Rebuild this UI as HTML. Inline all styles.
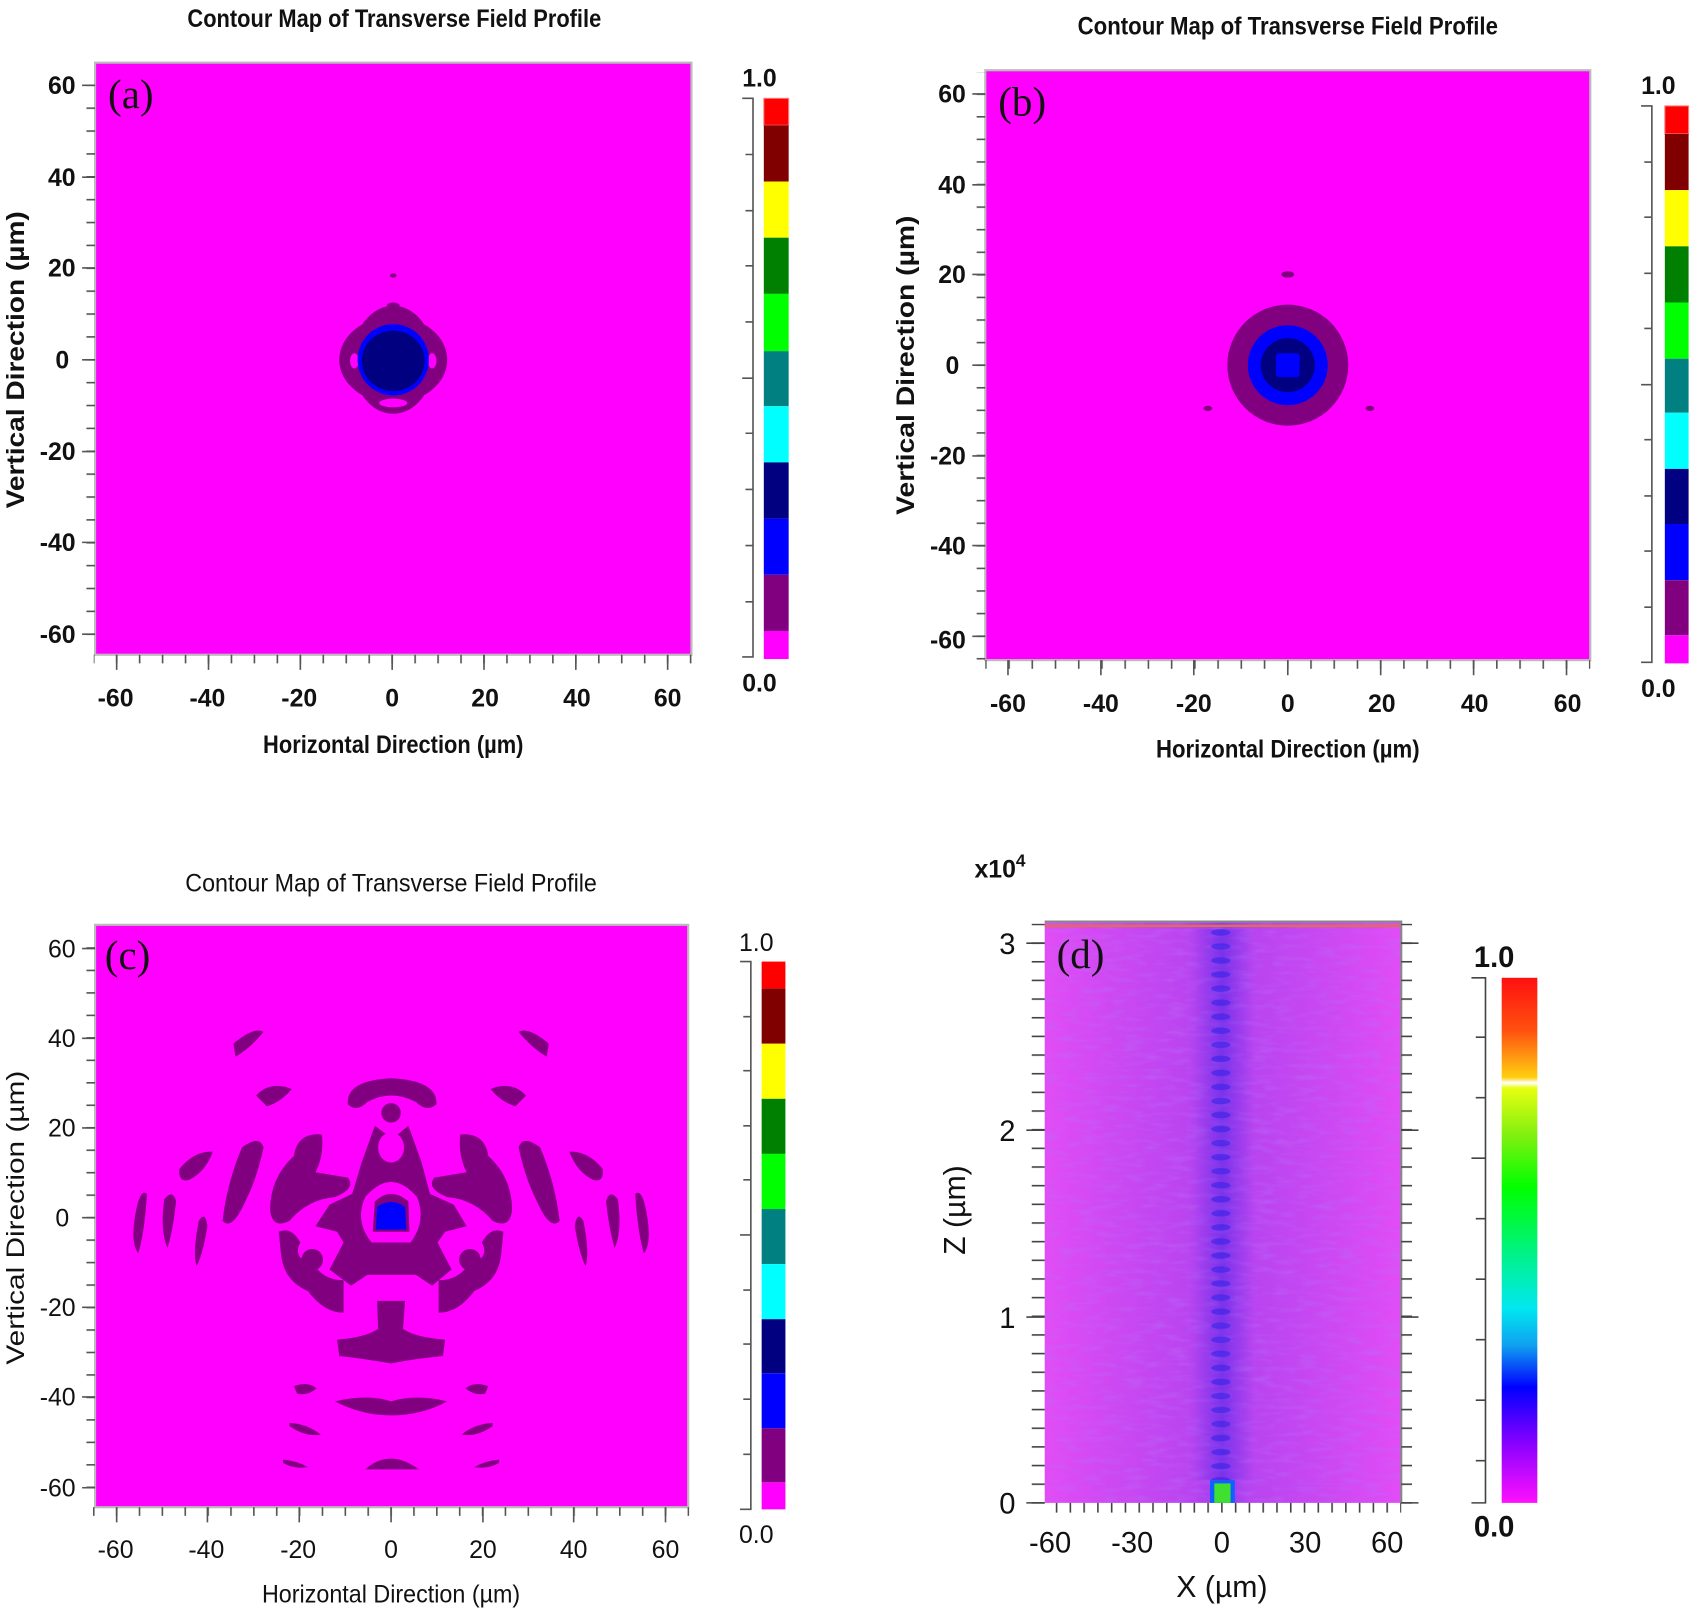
<!DOCTYPE html>
<html><head><meta charset="utf-8"><style>html,body{margin:0;padding:0;background:#fff}svg{display:block}</style></head><body>
<svg width="1694" height="1612" viewBox="0 0 1568 1492" preserveAspectRatio="none" xmlns="http://www.w3.org/2000/svg">
<defs>
<pattern id="ax" patternUnits="userSpaceOnUse" x="362.25" y="0" width="21.25" height="20"><rect x="0" y="0" width="1.5" height="20" fill="#555"/></pattern>
<pattern id="ay" patternUnits="userSpaceOnUse" x="0" y="332.25" width="20" height="21.17"><rect x="0" y="0" width="20" height="1.5" fill="#555"/></pattern>
<pattern id="bx" patternUnits="userSpaceOnUse" x="1191.25" y="0" width="21.5" height="20"><rect x="0" y="0" width="1.5" height="20" fill="#555"/></pattern>
<pattern id="by" patternUnits="userSpaceOnUse" x="0" y="337.25" width="20" height="20.9"><rect x="0" y="0" width="20" height="1.5" fill="#555"/></pattern>
<pattern id="cx" patternUnits="userSpaceOnUse" x="361.25" y="0" width="21.17" height="20"><rect x="0" y="0" width="1.5" height="20" fill="#555"/></pattern>
<pattern id="cy" patternUnits="userSpaceOnUse" x="0" y="1126.25" width="20" height="20.8"><rect x="0" y="0" width="20" height="1.5" fill="#555"/></pattern>
<pattern id="dx" patternUnits="userSpaceOnUse" x="1130.25" y="0" width="12.75" height="20"><rect x="0" y="0" width="1.5" height="20" fill="#444"/></pattern>
<pattern id="dy" patternUnits="userSpaceOnUse" x="0" y="1390.25" width="20" height="17.27"><rect x="0" y="0" width="20" height="1.5" fill="#444"/></pattern>
<pattern id="beads" patternUnits="userSpaceOnUse" x="0" y="860" width="20" height="13"><ellipse cx="10" cy="3" rx="9" ry="3" fill="#3020e8"/></pattern>
<linearGradient id="dbg" x1="0" x2="1" y1="0" y2="0">
<stop offset="0" stop-color="#e24cf6"/><stop offset="0.2" stop-color="#cc48f2"/><stop offset="0.42" stop-color="#b844f0"/><stop offset="0.5" stop-color="#9a3aec"/><stop offset="0.58" stop-color="#b844f0"/><stop offset="0.8" stop-color="#cc48f2"/><stop offset="1" stop-color="#e24cf6"/></linearGradient>
<linearGradient id="col" x1="0" x2="1" y1="0" y2="0">
<stop offset="0" stop-color="#6030e8" stop-opacity="0"/><stop offset="0.5" stop-color="#5028e8" stop-opacity="0.7"/><stop offset="1" stop-color="#6030e8" stop-opacity="0"/></linearGradient>
<linearGradient id="dcb" x1="0" x2="0" y1="0" y2="1">
<stop offset="0" stop-color="#ff1010"/><stop offset="0.1" stop-color="#ff5010"/><stop offset="0.19" stop-color="#ffd010"/><stop offset="0.2" stop-color="#ffffff"/><stop offset="0.21" stop-color="#e8ff10"/><stop offset="0.3" stop-color="#80f010"/><stop offset="0.4" stop-color="#00ff00"/><stop offset="0.55" stop-color="#00f0a0"/><stop offset="0.63" stop-color="#00e8f0"/><stop offset="0.7" stop-color="#10a0f0"/><stop offset="0.78" stop-color="#0000ff"/><stop offset="0.88" stop-color="#8000ff"/><stop offset="1" stop-color="#ff10ff"/></linearGradient>
<filter id="tex" x="0" y="0" width="1" height="1"><feTurbulence type="fractalNoise" baseFrequency="0.05 0.2" numOctaves="2" seed="3"/><feColorMatrix type="matrix" values="0 0 0 0 0.5  0 0 0 0 0.15  0 0 0 0 0.95  0 0 0 1.8 -0.8"/></filter>
</defs>
<g font-family="'Liberation Sans Narrow','Liberation Sans',sans-serif" font-weight="bold" fill="#111">

<!-- ===== Panel A ===== -->
<text x="365" y="25" font-size="23" text-anchor="middle" textLength="383" lengthAdjust="spacingAndGlyphs">Contour Map of Transverse Field Profile</text>
<rect x="88" y="58" width="552" height="548" fill="#ff00ff" stroke="#bbb" stroke-width="2"/>
<g fill="#800080">
<ellipse cx="364" cy="333" rx="50" ry="40"/>
<ellipse cx="364" cy="333" rx="38" ry="50"/>
<ellipse cx="364" cy="283" rx="6" ry="3"/>
<ellipse cx="364" cy="255" rx="3" ry="2"/>
</g>
<ellipse cx="364" cy="373" rx="13" ry="4" fill="#ff00ff"/>
<ellipse cx="328" cy="334" rx="4" ry="7" fill="#ff00ff"/>
<ellipse cx="400" cy="334" rx="4" ry="7" fill="#ff00ff"/>
<circle cx="364" cy="333" r="33" fill="#0000ff"/>
<ellipse cx="364" cy="334" rx="29" ry="28" fill="#000080"/>
<text x="100" y="100" font-family="'Liberation Serif',serif" font-weight="normal" font-size="38">(a)</text>
<rect x="86.75" y="606" width="556" height="8" fill="url(#ax)"/>
<rect x="80" y="60" width="8" height="546" fill="url(#ay)"/>
<path d="M108,606v14M193,606v14M278,606v14M363,606v14M448,606v14M533,606v14M618,606v14M76,79h12M76,164h12M76,248h12M76,333h12M76,418h12M76,502h12M76,587h12" stroke="#555" stroke-width="1.5"/>
<g font-size="23" text-anchor="middle">
<text x="107" y="654">-60</text><text x="192" y="654">-40</text><text x="277" y="654">-20</text><text x="363" y="654">0</text><text x="449" y="654">20</text><text x="534" y="654">40</text><text x="618" y="654">60</text>
</g>
<g font-size="23" text-anchor="end">
<text x="70" y="87">60</text><text x="70" y="172">40</text><text x="70" y="256">20</text><text x="64" y="341">0</text><text x="70" y="426">-20</text><text x="70" y="510">-40</text><text x="70" y="595">-60</text>
</g>
<text x="364" y="697" font-size="23" text-anchor="middle" textLength="241" lengthAdjust="spacingAndGlyphs">Horizontal Direction (µm)</text>
<text transform="translate(22,333) rotate(-90)" font-size="23" text-anchor="middle" textLength="275" lengthAdjust="spacingAndGlyphs">Vertical Direction (µm)</text>
<path d="M687,91h10v517h-10M690,143h7M690,195h7M690,246h7M687,350h10M690,298h7M690,401h7M690,453h7M690,505h7M690,557h7" stroke="#555" stroke-width="1.5" fill="none"/>
<rect x="707" y="91" width="23" height="25" fill="#ff0000" stroke="#ff8080"/>
<rect x="707" y="116" width="23" height="52" fill="#800000"/>
<rect x="707" y="168" width="23" height="52" fill="#ffff00"/>
<rect x="707" y="220" width="23" height="52" fill="#008000"/>
<rect x="707" y="272" width="23" height="53" fill="#00ff00"/>
<rect x="707" y="325" width="23" height="51" fill="#008080"/>
<rect x="707" y="376" width="23" height="52" fill="#00ffff"/>
<rect x="707" y="428" width="23" height="52" fill="#000080"/>
<rect x="707" y="480" width="23" height="52" fill="#0000ff"/>
<rect x="707" y="532" width="23" height="52" fill="#800080"/>
<rect x="707" y="584" width="23" height="26" fill="#ff00ff"/>
<text x="703" y="80" font-size="23" text-anchor="middle">1.0</text>
<text x="703" y="640" font-size="23" text-anchor="middle">0.0</text>

<!-- ===== Panel B ===== -->
<text x="1192" y="32" font-size="23" text-anchor="middle" textLength="389" lengthAdjust="spacingAndGlyphs">Contour Map of Transverse Field Profile</text>
<rect x="912" y="65" width="560" height="546" fill="#ff00ff" stroke="#bbb" stroke-width="2"/>
<circle cx="1192" cy="338" r="56" fill="#800080"/>
<ellipse cx="1192" cy="254" rx="6" ry="3" fill="#800080"/>
<ellipse cx="1118" cy="378" rx="4" ry="2.5" fill="#800080"/>
<ellipse cx="1268" cy="378" rx="4" ry="2.5" fill="#800080"/>
<circle cx="1192" cy="338" r="37" fill="#0000ff"/>
<circle cx="1192" cy="338" r="25" fill="#000080"/>
<rect x="1181" y="327" width="22" height="22" rx="3" fill="#0000ff"/>
<text x="924" y="107" font-family="'Liberation Serif',serif" font-weight="normal" font-size="38">(b)</text>
<rect x="912" y="611" width="560" height="8" fill="url(#bx)"/>
<rect x="904" y="67" width="8" height="544" fill="url(#by)"/>
<path d="M933,611v14M1019,611v14M1105,611v14M1192,611v14M1278,611v14M1364,611v14M1450,611v14M900,87h12M900,171h12M900,254h12M900,338h12M900,422h12M900,505h12M900,589h12" stroke="#555" stroke-width="1.5"/>
<g font-size="23" text-anchor="middle">
<text x="933" y="659">-60</text><text x="1019" y="659">-40</text><text x="1105" y="659">-20</text><text x="1192" y="659">0</text><text x="1279" y="659">20</text><text x="1365" y="659">40</text><text x="1451" y="659">60</text>
</g>
<g font-size="23" text-anchor="end">
<text x="894" y="95">60</text><text x="894" y="179">40</text><text x="894" y="262">20</text><text x="888" y="346">0</text><text x="894" y="430">-20</text><text x="894" y="513">-40</text><text x="894" y="600">-60</text>
</g>
<text x="1192" y="701" font-size="23" text-anchor="middle" textLength="244" lengthAdjust="spacingAndGlyphs">Horizontal Direction (µm)</text>
<text transform="translate(846,338) rotate(-90)" font-size="23" text-anchor="middle" textLength="277" lengthAdjust="spacingAndGlyphs">Vertical Direction (µm)</text>
<path d="M1519,98h10v515h-10M1522,150h7M1522,201h7M1522,253h7M1519,356h10M1522,304h7M1522,407h7M1522,459h7M1522,510h7M1522,562h7" stroke="#555" stroke-width="1.5" fill="none"/>
<rect x="1541" y="98" width="22" height="26" fill="#ff0000" stroke="#ff8080"/>
<rect x="1541" y="124" width="22" height="52" fill="#800000"/>
<rect x="1541" y="176" width="22" height="52" fill="#ffff00"/>
<rect x="1541" y="228" width="22" height="52" fill="#008000"/>
<rect x="1541" y="280" width="22" height="52" fill="#00ff00"/>
<rect x="1541" y="332" width="22" height="50" fill="#008080"/>
<rect x="1541" y="382" width="22" height="52" fill="#00ffff"/>
<rect x="1541" y="434" width="22" height="51" fill="#000080"/>
<rect x="1541" y="485" width="22" height="52" fill="#0000ff"/>
<rect x="1541" y="537" width="22" height="51" fill="#800080"/>
<rect x="1541" y="588" width="22" height="26" fill="#ff00ff"/>
<text x="1535" y="87" font-size="23" text-anchor="middle">1.0</text>
<text x="1535" y="645" font-size="23" text-anchor="middle">0.0</text>

<!-- ===== Panel C ===== -->
<text x="362" y="825" font-size="23" font-weight="normal" text-anchor="middle" textLength="381" lengthAdjust="spacingAndGlyphs">Contour Map of Transverse Field Profile</text>
<rect x="88" y="856" width="549" height="539" fill="#ff00ff" stroke="#bbb" stroke-width="2"/>
<g fill="#800080">
<path d="M322,1022 Q320,1000 362,998 Q405,1000 404,1022 Q395,1030 385,1020 Q362,1008 340,1020 Q330,1030 322,1022Z"/>
<ellipse cx="362" cy="1030" rx="9" ry="9"/>
<path d="M347,1042 L358,1050 L368,1050 L378,1042 L390,1075 L398,1105 L420,1115 L432,1135 L412,1140 L405,1150 L418,1175 L400,1190 L385,1180 L340,1180 L325,1190 L305,1175 L318,1150 L312,1140 L292,1135 L305,1115 L326,1105 L335,1075Z"/>
<path d="M272,1070 Q275,1048 298,1050 Q300,1070 292,1085 L322,1090 Q330,1100 310,1108 Q285,1110 268,1130 Q252,1138 250,1120 Q250,1090 272,1070Z"/>
<path d="M452,1070 Q449,1048 426,1050 Q424,1070 432,1085 L402,1090 Q394,1100 414,1108 Q439,1110 456,1130 Q472,1138 474,1120 Q474,1090 452,1070Z"/>
<path d="M258,1140 Q270,1135 278,1150 Q270,1165 290,1170 Q300,1185 318,1185 L318,1215 Q300,1215 285,1195 Q262,1185 260,1160Z"/>
<path d="M466,1140 Q454,1135 446,1150 Q454,1165 434,1170 Q424,1185 406,1185 L406,1215 Q424,1215 439,1195 Q462,1185 464,1160Z"/>
<circle cx="289" cy="1166" r="10"/>
<circle cx="435" cy="1166" r="10"/>
<path d="M349,1204 L375,1204 L373,1230 Q385,1238 412,1240 L410,1255 Q380,1258 362,1262 Q340,1258 314,1255 L312,1240 Q338,1238 350,1230Z"/>
<path d="M166,1082 Q180,1065 197,1066 Q190,1085 175,1092 Q165,1095 166,1082Z"/>
<path d="M558,1082 Q544,1065 527,1066 Q534,1085 549,1092 Q559,1095 558,1082Z"/>
<path d="M237,1014 Q250,1000 270,1008 Q260,1020 247,1024Z"/>
<path d="M487,1014 Q474,1000 454,1008 Q464,1020 477,1024Z"/>
<path d="M224,1062 Q240,1050 244,1062 Q238,1090 228,1110 Q215,1140 206,1130 Q210,1095 224,1062Z"/>
<path d="M500,1062 Q484,1050 480,1062 Q486,1090 496,1110 Q509,1140 518,1130 Q514,1095 500,1062Z"/>
<path d="M216,966 Q235,950 244,955 Q232,970 218,978Z"/>
<path d="M508,966 Q489,950 480,955 Q492,970 506,978Z"/>
<path d="M152,1110 Q160,1100 163,1112 Q160,1140 155,1155 Q148,1140 152,1110Z"/>
<path d="M572,1110 Q564,1100 561,1112 Q564,1140 569,1155 Q576,1140 572,1110Z"/>
<path d="M126,1120 Q130,1100 136,1105 Q134,1140 128,1160 Q120,1150 126,1120Z"/>
<path d="M598,1120 Q594,1100 588,1105 Q590,1140 596,1160 Q604,1150 598,1120Z"/>
<path d="M184,1130 Q190,1120 192,1135 Q188,1160 182,1172 Q178,1160 184,1130Z"/>
<path d="M540,1130 Q534,1120 532,1135 Q536,1160 542,1172 Q546,1160 540,1130Z"/>
<path d="M310,1297 Q340,1290 362,1297 Q385,1290 414,1297 Q390,1310 362,1310 Q335,1310 310,1297Z"/>
<path d="M272,1283 Q285,1278 293,1285 Q285,1292 275,1290Z"/>
<path d="M452,1283 Q439,1278 431,1285 Q439,1292 449,1290Z"/>
<path d="M268,1317 Q285,1318 297,1328 Q282,1330 268,1320Z"/>
<path d="M456,1317 Q439,1318 427,1328 Q442,1330 456,1320Z"/>
<path d="M262,1351 Q275,1352 285,1358 Q272,1360 262,1354Z"/>
<path d="M462,1351 Q449,1352 439,1358 Q452,1360 462,1354Z"/>
<path d="M338,1360 Q360,1340 388,1360Z"/>
</g>
<g fill="#ff00ff">
<ellipse cx="362" cy="1062" rx="12" ry="14"/>
<path d="M338,1108 Q362,1080 386,1108 Q395,1130 380,1150 L344,1150 Q328,1130 338,1108Z"/>
</g>
<path d="M347,1112 Q362,1098 378,1112 L379,1140 L345,1140Z" fill="#800080"/>
<path d="M349,1117 Q362,1108 375,1117 L376,1138 L348,1138Z" fill="#0000ff"/>
<text x="97" y="897" font-family="'Liberation Serif',serif" font-weight="normal" font-size="38">(c)</text>
<rect x="86" y="1395" width="552" height="8" fill="url(#cx)"/>
<rect x="80" y="858" width="8" height="537" fill="url(#cy)"/>
<path d="M108,1395v14M192,1395v14M277,1395v14M362,1395v14M447,1395v14M531,1395v14M616,1395v14M76,878h12M76,961h12M76,1044h12M76,1127h12M76,1210h12M76,1293h12M76,1377h12" stroke="#555" stroke-width="1.5"/>
<g font-size="23" font-weight="normal" text-anchor="middle">
<text x="107" y="1442">-60</text><text x="191" y="1442">-40</text><text x="276" y="1442">-20</text><text x="362" y="1442">0</text><text x="447" y="1442">20</text><text x="531" y="1442">40</text><text x="616" y="1442">60</text>
</g>
<g font-size="23" font-weight="normal" text-anchor="end">
<text x="70" y="886">60</text><text x="70" y="969">40</text><text x="70" y="1052">20</text><text x="64" y="1135">0</text><text x="70" y="1218">-20</text><text x="70" y="1301">-40</text><text x="70" y="1385">-60</text>
</g>
<text x="362" y="1483" font-size="23" font-weight="normal" text-anchor="middle" textLength="239" lengthAdjust="spacingAndGlyphs">Horizontal Direction (µm)</text>
<text transform="translate(22,1127) rotate(-90)" font-size="23" font-weight="normal" text-anchor="middle" textLength="272" lengthAdjust="spacingAndGlyphs">Vertical Direction (µm)</text>
<path d="M685,890h10v507h-10M688,941h7M688,991h7M688,1042h7M685,1143h10M688,1092h7M688,1194h7M688,1244h7M688,1295h7M688,1346h7" stroke="#555" stroke-width="1.5" fill="none"/>
<rect x="705" y="890" width="22" height="25" fill="#ff0000"/>
<rect x="705" y="915" width="22" height="51" fill="#800000"/>
<rect x="705" y="966" width="22" height="51" fill="#ffff00"/>
<rect x="705" y="1017" width="22" height="51" fill="#008000"/>
<rect x="705" y="1068" width="22" height="51" fill="#00ff00"/>
<rect x="705" y="1119" width="22" height="51" fill="#008080"/>
<rect x="705" y="1170" width="22" height="51" fill="#00ffff"/>
<rect x="705" y="1221" width="22" height="50" fill="#000080"/>
<rect x="705" y="1271" width="22" height="51" fill="#0000ff"/>
<rect x="705" y="1322" width="22" height="50" fill="#800080"/>
<rect x="705" y="1372" width="22" height="25" fill="#ff00ff"/>
<text x="700" y="880" font-size="23" font-weight="normal" text-anchor="middle">1.0</text>
<text x="700" y="1428" font-size="23" font-weight="normal" text-anchor="middle">0.0</text>

<!-- ===== Panel D ===== -->
<g font-family="'Liberation Sans',sans-serif">
<rect x="967" y="853" width="330" height="538" fill="url(#dbg)"/>
<rect x="967" y="853" width="330" height="538" filter="url(#tex)" opacity="0.55"/>
<rect x="1100" y="860" width="62" height="510" fill="url(#col)" opacity="0.6"/>
<rect x="1121" y="860" width="20" height="510" fill="url(#beads)" opacity="0.55"/>
<rect x="1120" y="1370" width="23" height="21" fill="#1060ff"/>
<rect x="1124" y="1373" width="15" height="18" fill="#40e030"/>
<rect x="967" y="856" width="330" height="2" fill="#e07040"/>
<path d="M967,853h330v538" stroke="#888" stroke-width="2" fill="none"/>
<text x="978" y="896" font-family="'Liberation Serif',serif" font-weight="normal" font-size="38">(d)</text>
<rect x="967" y="1391" width="330" height="9" fill="url(#dx)"/>
<rect x="955" y="855" width="12" height="537" fill="url(#dy)"/>
<rect x="1297" y="855" width="10" height="537" fill="url(#dy)"/>
<path d="M950,873h17M950,1046h17M950,1219h17M950,1391h17M1297,873h16M1297,1046h16M1297,1219h16M1297,1391h16" stroke="#444" stroke-width="1.5"/>
<g font-size="27" font-weight="normal" text-anchor="middle">
<text x="972" y="1437">-60</text><text x="1048" y="1437">-30</text><text x="1131" y="1437">0</text><text x="1208" y="1437">30</text><text x="1284" y="1437">60</text>
</g>
<g font-size="27" font-weight="normal" text-anchor="end">
<text x="940" y="883">3</text><text x="940" y="1056">2</text><text x="940" y="1229">1</text><text x="940" y="1401">0</text>
</g>
<text x="902" y="812" font-size="23">x10<tspan font-size="16" dy="-10">4</tspan></text>
<text x="1131" y="1478" font-size="28" font-weight="normal" text-anchor="middle">X (µm)</text>
<text transform="translate(893,1120) rotate(-90)" font-size="28" font-weight="normal" text-anchor="middle">Z (µm)</text>
<path d="M1362,905h13v486h-13M1366,960h9M1366,1016h9M1362,1072h13M1366,1128h9M1366,1184h9M1366,1240h9M1366,1296h9M1366,1352h9" stroke="#444" stroke-width="1.5" fill="none"/>
<rect x="1390" y="905" width="33" height="486" fill="url(#dcb)"/>
<text x="1383" y="895" font-size="27" text-anchor="middle">1.0</text>
<text x="1383" y="1422" font-size="27" text-anchor="middle">0.0</text>
</g>
</g>
</svg>
</body></html>
